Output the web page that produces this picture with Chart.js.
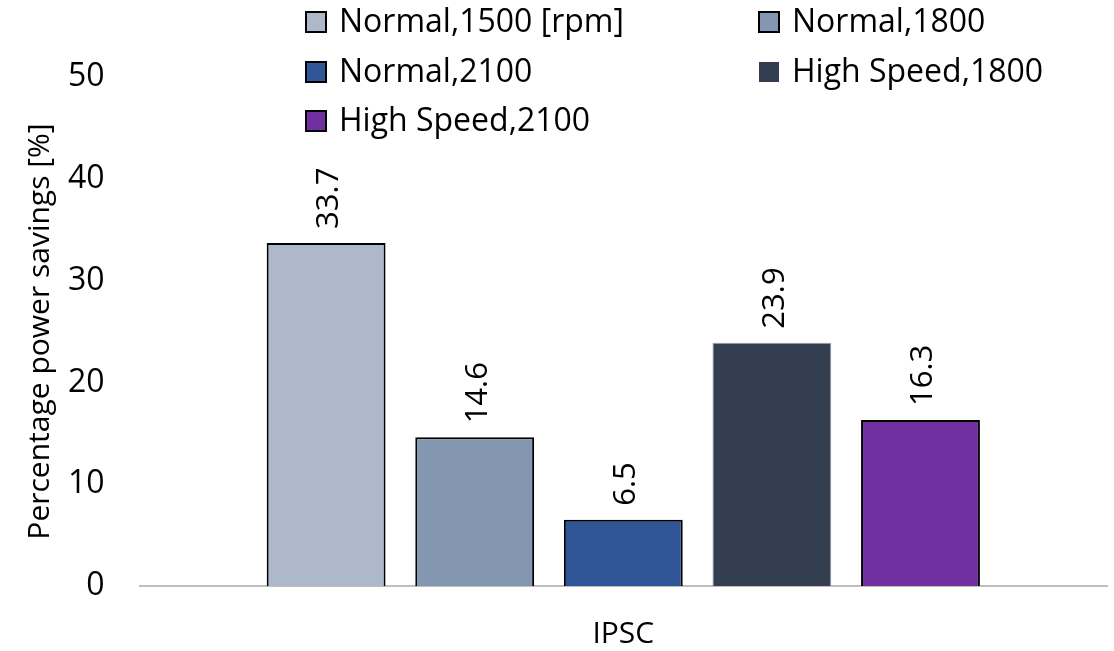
<!DOCTYPE html>
<html><head><meta charset="utf-8">
<script src="https://cdn.jsdelivr.net/npm/chart.js@4"></script>
<style>html,body{margin:0;padding:0;background:#fff}#wrap{width:1114px;height:651px;position:relative}</style>
</head><body><div id="wrap"><canvas id="c" width="1114" height="651"></canvas></div>
<script>
const categories = ['IPSC'];
const seriesLabels = ['Normal,1500 [rpm]', 'Normal,1800', 'Normal,2100', 'High Speed,1800', 'High Speed,2100'];
const normal1500 = [33.7];
const normal1800 = [14.6];
const normal2100 = [6.5];
const highSpeed1800 = [23.9];
const highSpeed2100 = [16.3];
const seriesValues = [normal1500, normal1800, normal2100, highSpeed1800, highSpeed2100];
const seriesColors = ['#ADB9CA', '#8497B0', '#2F5597', '#333F50', '#7030A0'];
const seriesBorders = ['#000000', '#000000', '#000000', '#9AA0A8', '#000000'];
const seriesBorderWidths = [2, 2, 2, 1, 2];
const legendBorders = [true, true, true, false, true];
const yAxisTitle = 'Percentage power savings [%]';
const yMin = 0, yMax = 50, yStep = 10;

const FONT = '"Open Sans", Lato, sans-serif';
const TXT = '#000000';

const datasets = seriesLabels.map((lab, i) => ({
  label: lab,
  data: seriesValues[i],
  backgroundColor: seriesColors[i],
  borderColor: seriesBorders[i],
  borderWidth: seriesBorderWidths[i],
  borderSkipped: 'bottom',
  categoryPercentage: 0.768,
  barPercentage: 0.80
}));

const valueLabels = {
  id: 'valueLabels',
  afterDatasetsDraw(chart) {
    const ctx = chart.ctx;
    ctx.save();
    ctx.font = '31px ' + FONT;
    ctx.fillStyle = TXT;
    chart.data.datasets.forEach((ds, di) => {
      const meta = chart.getDatasetMeta(di);
      meta.data.forEach((el, j) => {
        ctx.save();
        ctx.translate(el.x, el.y - 14);
        ctx.rotate(-Math.PI / 2);
        ctx.textAlign = 'left';
        ctx.textBaseline = 'middle';
        ctx.fillText(ds.data[j].toFixed(1), 0, 3);
        ctx.restore();
      });
    });
    ctx.restore();
  }
};

const gridLegend = {
  id: 'gridLegend',
  afterDraw(chart) {
    const ctx = chart.ctx;
    const colX = [306, 759];
    const rowY = [22, 72, 121];
    ctx.save();
    ctx.font = '32px ' + FONT;
    ctx.textBaseline = 'middle';
    ctx.textAlign = 'left';
    chart.data.datasets.forEach((ds, i) => {
      const x = colX[i % 2];
      const y = rowY[Math.floor(i / 2)];
      const s = 20;
      ctx.fillStyle = ds.backgroundColor;
      ctx.fillRect(x, y - s / 2, s, s);
      if (legendBorders[i]) {
        ctx.strokeStyle = '#000';
        ctx.lineWidth = 2;
        ctx.strokeRect(x, y - s / 2, s, s);
      }
      ctx.fillStyle = TXT;
      ctx.fillText(ds.label, x + s + 13, y + 1);
    });
    ctx.restore();
  }
};

new Chart(document.getElementById('c'), {
  type: 'bar',
  data: { labels: categories, datasets },
  options: {
    responsive: false,
    animation: false,
    devicePixelRatio: 1,
    layout: { padding: { top: 77, right: 7, bottom: -31, left: 22 } },
    plugins: {
      legend: { display: false },
      tooltip: { enabled: false }
    },
    scales: {
      x: {
        grid: { display: false, drawTicks: false },
        border: { display: true, color: '#BFBFBF', width: 2 },
        ticks: { color: TXT, font: { family: FONT, size: 30 }, padding: 30 }
      },
      y: {
        min: yMin, max: yMax,
        grid: { display: false, drawTicks: false },
        border: { display: false },
        ticks: { stepSize: yStep, color: TXT, font: { family: FONT, size: 32 }, padding: 35 },
        title: { display: true, text: yAxisTitle, color: TXT, font: { family: FONT, size: 30 }, padding: { top: 0, bottom: -25 } }
      }
    }
  },
  plugins: [valueLabels, gridLegend]
});
</script>
</body></html>
